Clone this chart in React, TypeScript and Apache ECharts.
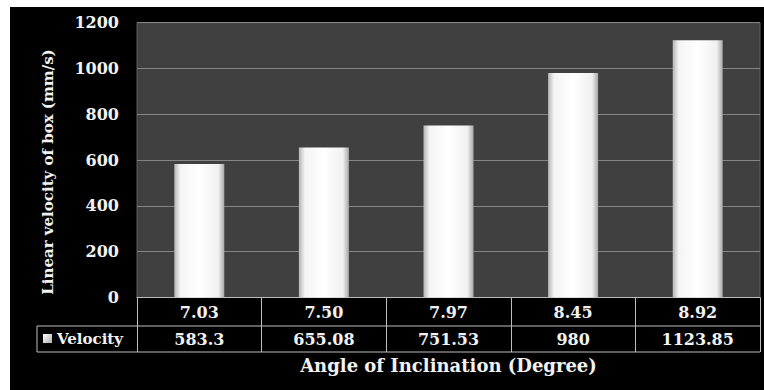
import React, { useEffect, useRef } from "react";
import * as echarts from "echarts";

const categories = ["7.03", "7.50", "7.97", "8.45", "8.92"];
const velocity = [583.3, 655.08, 751.53, 980, 1123.85];
const velocityLabels = ["583.3", "655.08", "751.53", "980", "1123.85"];
const seriesName = "Velocity";
const yTitle = "Linear velocity of box (mm/s)";
const xTitle = "Angle of Inclination (Degree)";

const FONT = "DejaVu Serif";
const TEXT = "#f2f2f2";
const LINE = "#bdbdbd";

export default function App() {
  const ref = useRef<HTMLDivElement>(null);
  useEffect(() => {
    if (!ref.current) return;
    const chart = echarts.init(ref.current, null, { renderer: "svg" });
    const gridLeft = 127;
    const gridRight = 4;
    const gridTop = 15.7;
    const gridBottom = 92.5;
    const H = 383;
    const W = 754;
    const axisY = H - gridBottom;
    const row1 = axisY + 28.5;
    const row2 = row1 + 26;
    chart.setOption({
      animation: false,
      backgroundColor: "#000000",
      grid: {
        left: gridLeft,
        right: gridRight,
        top: gridTop,
        bottom: gridBottom,
        show: true,
        backgroundColor: "#404040",
        borderColor: "#5e5e5e",
        borderWidth: 1,
      },
      xAxis: {
        type: "category",
        data: categories,
        name: xTitle,
        nameLocation: "middle",
        nameGap: 59,
        nameTextStyle: { color: TEXT, fontFamily: FONT, fontWeight: "bold", fontSize: 18 },
        axisLine: { show: true, lineStyle: { color: LINE, width: 1 } },
        axisTick: { show: true, length: row2 - axisY, lineStyle: { color: LINE, width: 1 } },
        axisLabel: {
          color: TEXT,
          fontFamily: FONT,
          fontWeight: "bold",
          fontSize: 16,
          margin: 15,
          verticalAlign: "middle",
        },
      },
      yAxis: {
        type: "value",
        min: 0,
        max: 1200,
        interval: 200,
        axisLine: { show: false },
        axisTick: { show: false },
        axisLabel: {
          color: TEXT,
          fontFamily: FONT,
          fontWeight: "bold",
          fontSize: 16,
          margin: 18,
          formatter: (v: number) => String(v),
        },
        splitLine: { show: true, lineStyle: { color: "#858585", width: 1 } },
      },
      series: [
        {
          name: seriesName,
          type: "bar",
          data: velocity,
          barWidth: 50,
          itemStyle: {
            color: new echarts.graphic.LinearGradient(0, 0, 1, 0, [
              { offset: 0, color: "#b5b5b5" },
              { offset: 0.12, color: "#f4f4f4" },
              { offset: 0.5, color: "#ffffff" },
              { offset: 0.88, color: "#f0f0f0" },
              { offset: 1, color: "#a8a8a8" },
            ]),
          },
        },
      ],
    });

    const cells: any[] = [];
    // y axis title
    cells.push({
      type: "text",
      x: 38,
      y: 165,
      rotation: Math.PI / 2,
      style: {
        text: yTitle,
        fill: TEXT,
        font: `bold 15px "${FONT}"`,
        align: "center",
        verticalAlign: "middle",
      },
    });
    // table horizontal lines
    [row1, row2].forEach((y) => {
      cells.push({
        type: "line",
        shape: { x1: 27, y1: y, x2: W - gridRight, y2: y },
        style: { stroke: LINE, lineWidth: 1 },
      });
    });
    cells.push({
      type: "line",
      shape: { x1: 27, y1: row1, x2: 27, y2: row2 },
      style: { stroke: LINE, lineWidth: 1 },
    });
    // legend key
    cells.push({
      type: "rect",
      shape: { x: 33, y: (row1 + row2) / 2 - 5, width: 9, height: 9 },
      style: {
        fill: new echarts.graphic.LinearGradient(0, 0, 1, 1, [
          { offset: 0, color: "#ffffff" },
          { offset: 1, color: "#b0b0b0" },
        ]),
      },
    });
    cells.push({
      type: "text",
      x: 47,
      y: (row1 + row2) / 2,
      style: {
        text: seriesName,
        fill: TEXT,
        font: `bold 15px "${FONT}"`,
        verticalAlign: "middle",
        align: "left",
      },
    });
    velocityLabels.forEach((lab, i) => {
      const px = chart.convertToPixel({ xAxisIndex: 0 }, categories[i]) as number;
      cells.push({
        type: "text",
        x: px,
        y: (row1 + row2) / 2,
        style: {
          text: lab,
          fill: TEXT,
          font: `bold 16px "${FONT}"`,
          verticalAlign: "middle",
          align: "center",
        },
      });
    });
    chart.setOption({ graphic: cells });
    return () => chart.dispose();
  }, []);
  return (
    <div style={{ position: "absolute", left: 0, top: 0, width: 764, height: 390, background: "#ffffff" }}>
      <div ref={ref} style={{ position: "absolute", left: 10, top: 7, width: 754, height: 383 }} />
    </div>
  );
}
